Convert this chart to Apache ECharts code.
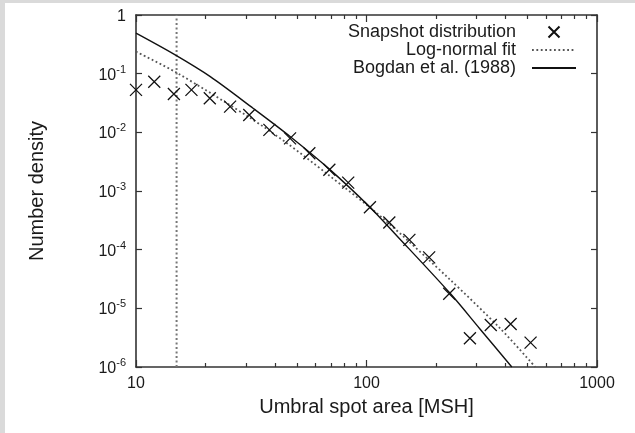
<!DOCTYPE html>
<html><head><meta charset="utf-8">
<script src="https://cdn.jsdelivr.net/npm/echarts@6/dist/echarts.min.js"></script>
<style>
html,body{margin:0;padding:0;background:#dadada;width:635px;height:433px;overflow:hidden}
#c{position:absolute;left:5px;top:3px;width:630px;height:430px;background:#fff}
</style></head><body><div id="c"></div>
<script>
// Snapshot distribution (crosses)
const snapX = [10, 12, 14.6, 17.4, 20.9, 25.6, 31, 37.9, 46.6, 56.5, 69, 83.3, 103.5, 125.6, 153.5, 187, 228.5, 281, 346, 422, 515];
const snapY = [0.053, 0.073, 0.045, 0.053, 0.038, 0.0274, 0.0198, 0.011, 0.0079, 0.0044, 0.0023, 0.00139, 0.00053, 0.00029, 0.000147, 0.000074, 0.0000177, 0.0000031, 0.0000052, 0.0000054, 0.0000026];
// Log-normal fit (dotted)
const fitX = [10, 15, 31, 45, 67, 118, 230, 379, 540];
const fitY = [0.237, 0.104, 0.018, 0.0066, 0.002, 0.00034, 0.000031, 0.0000046, 0.000001];
// Bogdan et al. (1988) (solid)
const bogX = [10, 14.6, 21, 32.3, 46.6, 69, 103.5, 135, 230, 310, 427];
const bogY = [0.49, 0.215, 0.089, 0.0255, 0.0085, 0.00236, 0.00053, 0.000175, 0.0000182, 0.0000045, 0.000001];
// Vertical cut line
const cutX = [15, 15];
const cutY = [0.000001, 1];
// Ticks
const xMajor = [10, 100, 1000];
const xMinor = [20, 30, 40, 50, 60, 70, 80, 90, 200, 300, 400, 500, 600, 700, 800, 900];
const yMajor = [0.000001, 0.00001, 0.0001, 0.001, 0.01, 0.1, 1];

const names = ['Snapshot distribution', 'Log-normal fit', 'Bogdan et al. (1988)'];
const FONT = 'Liberation Sans';
const TXT = '#1a1a1a';
const AX = '#333';
const zip = (a, b) => a.map((v, i) => [v, b[i]]);

function xAxisDef(pos, ticks, len, showLine, showLabel) {
  return {
    type: 'log', logBase: 10, min: 10, max: 1000, position: pos,
    axisLine: { show: showLine, onZero: false, lineStyle: { color: AX, width: 1.6 } },
    axisTick: { show: true, inside: true, length: len, customValues: ticks, lineStyle: { color: AX, width: 1.2 } },
    axisLabel: { show: showLabel, customValues: ticks, margin: 9, fontSize: 16, fontFamily: FONT, color: TXT,
      formatter: function (v) { return String(Math.round(v)); } },
    splitLine: { show: false }, minorTick: { show: false }
  };
}

const xAxes = [
  Object.assign(xAxisDef('bottom', xMajor, 7, true, true), {
    name: 'Umbral spot area [MSH]', nameLocation: 'middle', nameGap: 30,
    nameTextStyle: { fontSize: 20, fontFamily: FONT, color: TXT }
  }),
  xAxisDef('bottom', xMinor, 4, false, false),
  xAxisDef('top', xMajor, 7, true, false),
  xAxisDef('top', xMinor, 4, false, false)
];

function yAxisDef(pos, showLabel) {
  return {
    type: 'log', logBase: 10, min: 0.000001, max: 1, position: pos,
    axisLine: { show: true, onZero: false, lineStyle: { color: AX, width: 1.6 } },
    axisTick: { show: true, inside: true, length: 6, customValues: yMajor, lineStyle: { color: AX, width: 1.2 } },
    axisLabel: {
      show: showLabel, customValues: yMajor, margin: 10,
      formatter: function (v) {
        const e = Math.round(Math.log10(v));
        return e === 0 ? '{b|1}' : '{b|10}{s|' + e + '}';
      },
      rich: {
        b: { fontSize: 16, fontFamily: FONT, color: TXT, lineHeight: 19, verticalAlign: 'bottom' },
        s: { fontSize: 11, fontFamily: FONT, color: TXT, verticalAlign: 'top' }
      }
    },
    splitLine: { show: false }, minorTick: { show: false }
  };
}

const yAxes = [
  Object.assign(yAxisDef('left', true), {
    name: 'Number density', nameLocation: 'middle', nameGap: 89,
    nameTextStyle: { fontSize: 20, fontFamily: FONT, color: TXT }
  }),
  yAxisDef('right', false)
];

const chart = echarts.init(document.getElementById('c'), null, { renderer: 'canvas' });
chart.setOption({
  animation: false,
  backgroundColor: '#fff',
  grid: { left: 131, top: 12, right: 38, bottom: 66, containLabel: false, outerBoundsMode: 'none' },
  xAxis: xAxes,
  yAxis: yAxes,
  legend: {
    orient: 'vertical', right: 58, top: 20, padding: 0, itemGap: 0,
    itemWidth: 44, itemHeight: 11, align: 'right', selectedMode: false,
    textStyle: { fontSize: 18, fontFamily: FONT, color: TXT, padding: [0, 11, 0, 0] },
    data: names
  },
  series: [
    {
      type: 'line', name: 'cut', data: zip(cutX, cutY), showSymbol: false, symbol: 'none',
      itemStyle: { color: 'rgba(0,0,0,0)' },
      lineStyle: { color: '#777', width: 2, type: [2, 2.5] }, silent: true, z: 1
    },
    {
      type: 'line', name: names[1], data: zip(fitX, fitY), showSymbol: false, symbol: 'none', smooth: 0.3,
      itemStyle: { color: 'rgba(0,0,0,0)' },
      lineStyle: { color: '#555', width: 1.8, type: [1.8, 2.6] }, z: 2
    },
    {
      type: 'line', name: names[2], data: zip(bogX, bogY), showSymbol: false, symbol: 'none', smooth: 0.3,
      itemStyle: { color: 'rgba(0,0,0,0)' },
      lineStyle: { color: '#111', width: 1.4 }, z: 3
    },
    {
      type: 'scatter', name: names[0], data: zip(snapX, snapY),
      symbol: 'path://M0,0L10,10M10,0L0,10', symbolSize: 12,
      itemStyle: { color: 'rgba(0,0,0,0)', borderColor: '#111', borderWidth: 1.3, opacity: 1 }, z: 4
    }
  ]
});
</script></body></html>
